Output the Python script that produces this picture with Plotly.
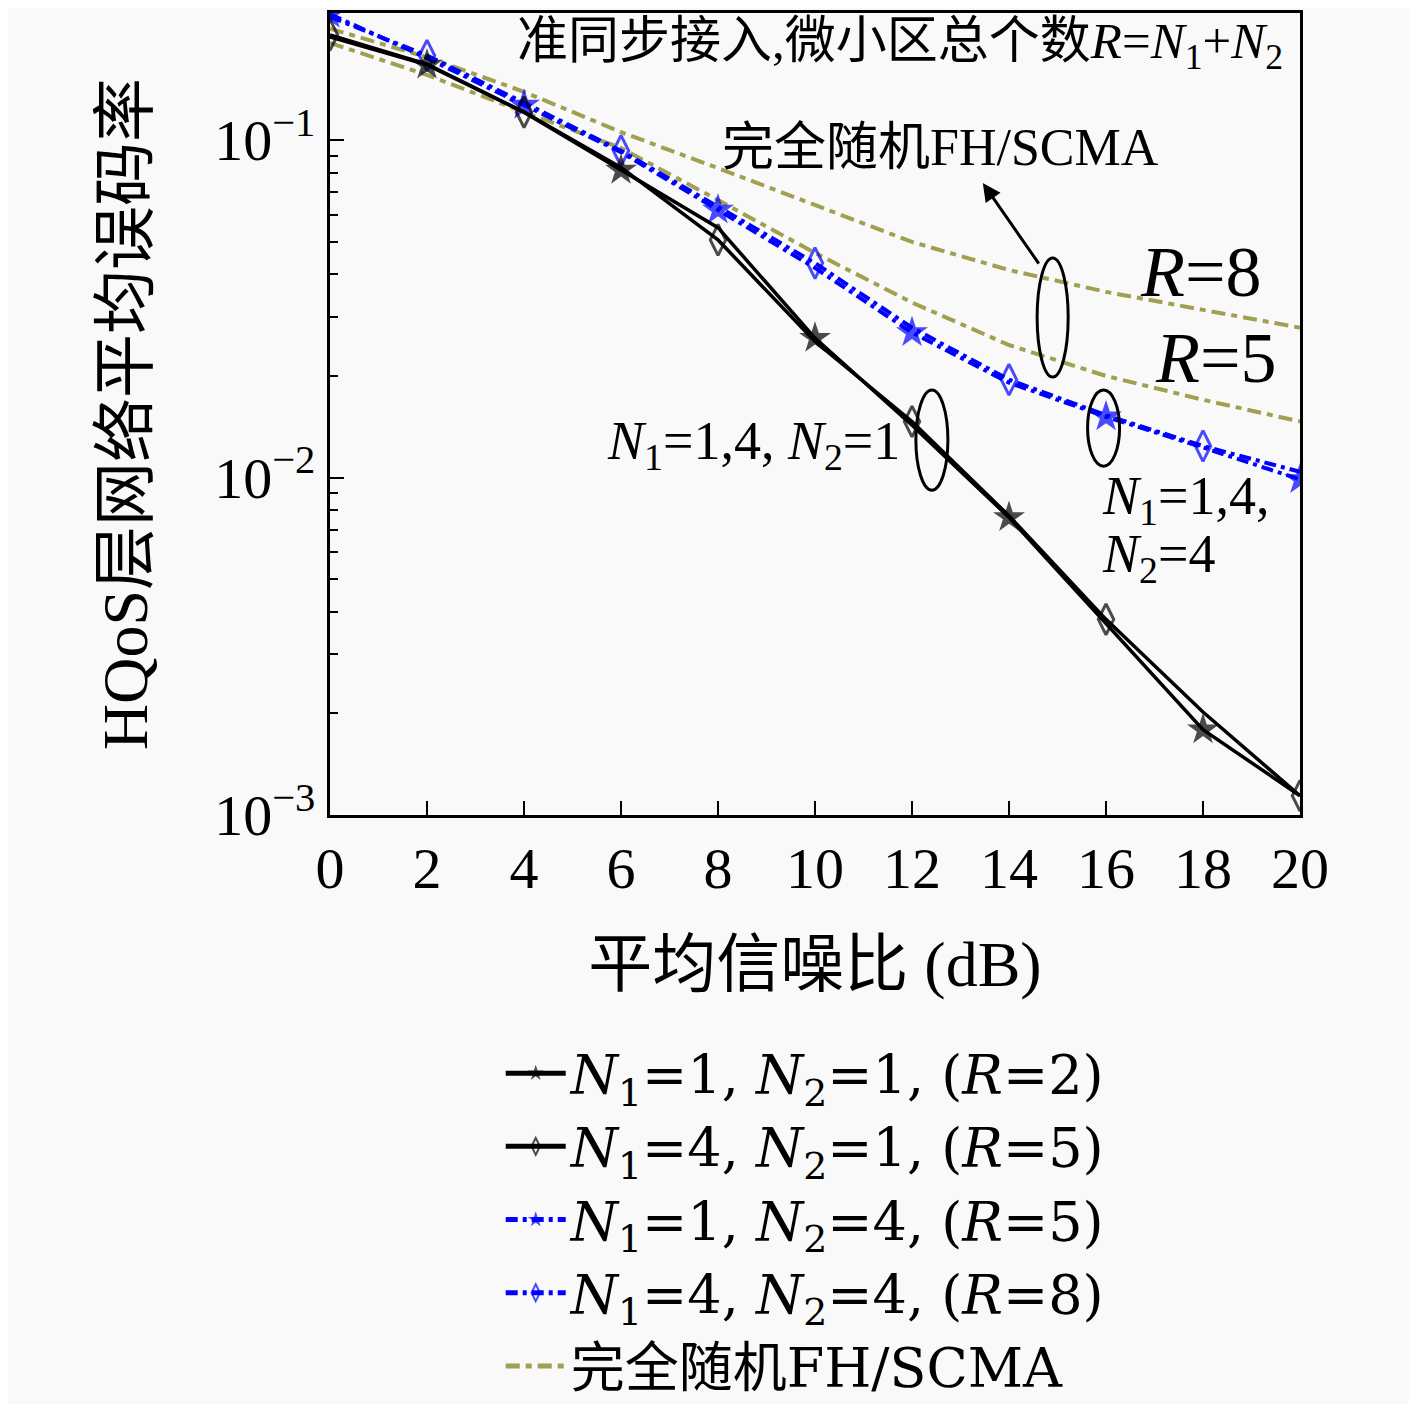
import numpy as np
import plotly.graph_objects as go

# SNR axis (dB)
snr = [0, 2, 4, 6, 8, 10, 12, 14, 16, 18, 20]

# average BER of the HQoS layer
ber_n1_1_n2_1 = [0.202, 0.167, 0.121, 0.0815, 0.055, 0.0259, 0.0143, 0.00762, 0.0037, 0.00179, 0.00114]
ber_n1_4_n2_1 = [0.205, 0.168, 0.121, 0.083, 0.0506, 0.0253, 0.01466, 0.0077, 0.0038, 0.00202, 0.00114]
ber_n1_1_n2_4 = [0.236, 0.175, 0.127, 0.0921, 0.0621, 0.0418, 0.0269, 0.0191, 0.01514, 0.01228, 0.00987]
ber_n1_4_n2_4 = [0.232, 0.178, 0.129, 0.093, 0.0635, 0.0432, 0.0278, 0.0195, 0.0153, 0.0124, 0.0104]
ber_fh_r8 = [0.214, 0.176, 0.139, 0.1056, 0.0826, 0.0642, 0.0499, 0.0412, 0.0355, 0.0314, 0.0278]
ber_fh_r5 = [0.194, 0.156, 0.121, 0.0947, 0.0664, 0.0463, 0.033, 0.0247, 0.020, 0.0170, 0.01466]

legend_names = [
    "<i>N</i><sub>1</sub>=1, <i>N</i><sub>2</sub>=1, (<i>R</i>=2)",
    "<i>N</i><sub>1</sub>=4, <i>N</i><sub>2</sub>=1, (<i>R</i>=5)",
    "<i>N</i><sub>1</sub>=1, <i>N</i><sub>2</sub>=4, (<i>R</i>=5)",
    "<i>N</i><sub>1</sub>=4, <i>N</i><sub>2</sub>=4, (<i>R</i>=8)",
    "完全随机FH/SCMA",
]

FONT = "Liberation Serif, Noto Sans CJK SC, serif"
LEG_FONT = "DejaVu Serif, Noto Sans CJK SC, serif"
BG = "#f9f9f9"
OLIVE = "#a0a050"


def every_other(n, odd, size):
    # markers only on every second point, like markevery in the original
    return [size if (i % 2 == 1) == odd else 0 for i in range(n)]


n = len(snr)
fig = go.Figure()

fig.add_trace(go.Scatter(
    x=snr, y=ber_fh_r8, name=legend_names[4], mode="lines",
    line=dict(color=OLIVE, width=4, dash="14px,6px,6px,6px")))
fig.add_trace(go.Scatter(
    x=snr, y=ber_fh_r5, name=legend_names[4], mode="lines", showlegend=False,
    line=dict(color=OLIVE, width=4, dash="14px,6px,6px,6px")))

fig.add_trace(go.Scatter(
    x=snr, y=ber_n1_1_n2_4, name=legend_names[2], mode="lines+markers",
    line=dict(color="#0000ff", width=4, dash="12px,5px,4px,5px"),
    marker=dict(symbol="star", color="#0000ff", size=every_other(n, False, 24),
                line=dict(width=0))))
fig.add_trace(go.Scatter(
    x=snr, y=ber_n1_4_n2_4, name=legend_names[3], mode="lines+markers",
    line=dict(color="#0000ff", width=4, dash="12px,5px,4px,5px"),
    marker=dict(symbol="diamond-tall-open", color="#0000ff",
                size=every_other(n, True, 22), line=dict(width=3))))

fig.add_trace(go.Scatter(
    x=snr, y=ber_n1_1_n2_1, name=legend_names[0], mode="lines+markers",
    line=dict(color="black", width=3.5),
    marker=dict(symbol="star", color="black", size=every_other(n, True, 24),
                line=dict(width=0))))
fig.add_trace(go.Scatter(
    x=snr, y=ber_n1_4_n2_1, name=legend_names[1], mode="lines+markers",
    line=dict(color="black", width=3.5),
    marker=dict(symbol="diamond-tall-open", color="black",
                size=every_other(n, False, 22), line=dict(width=3))))

# legend order as in the picture
for tr, rank in zip(fig.data, [5, 5, 3, 4, 1, 2]):
    tr.legendrank = rank

fig.update_xaxes(
    range=[0, 20], tick0=0, dtick=2,
    showline=True, mirror=True, linewidth=3, linecolor="black",
    ticks="inside", ticklen=14, tickwidth=2, tickcolor="black",
    showgrid=False, zeroline=False,
    tickfont=dict(size=58, family=FONT, color="black"),
    title=dict(text="平均信噪比 (dB)", font=dict(size=64, family=FONT, color="black"),
               standoff=42))
fig.update_yaxes(
    type="log", range=[-3, np.log10(0.238)],
    tickvals=[1e-3, 1e-2, 1e-1],
    ticktext=["10<sup>−3</sup>", "10<sup>−2</sup>", "10<sup>−1</sup>"],
    showline=True, mirror=True, linewidth=3, linecolor="black",
    ticks="inside", ticklen=14, tickwidth=2, tickcolor="black",
    minor=dict(ticks="inside", ticklen=8, tickwidth=2, tickcolor="black",
               dtick="D1", showgrid=False),
    showgrid=False, zeroline=False,
    tickfont=dict(size=58, family=FONT, color="black"),
    title=dict(text="HQoS层网络平均误码率", font=dict(size=64, family=FONT, color="black"),
               standoff=46))

# ellipses grouping the curves
ellipses = [(0.729, 0.546, 0.761, 0.6945), (0.604, 0.405, 0.637, 0.530), (0.781, 0.435, 0.814, 0.530)]
for x0, y0, x1, y1 in ellipses:
    fig.add_shape(type="circle", xref="paper", yref="paper", x0=x0, y0=y0, x1=x1, y1=y1,
                  line=dict(color="black", width=3))

txt = dict(size=54, family=FONT, color="black")
big = dict(size=72, family=FONT, color="black")
fig.add_annotation(xref="paper", yref="paper", x=0.985, y=0.96, xanchor="right", yanchor="middle",
                   text="准同步接入,微小区总个数<i>R</i>=<i>N</i><sub>1</sub>+<i>N</i><sub>2</sub>",
                   showarrow=False, font=dict(size=51, family=FONT, color="black"))
fig.add_annotation(xref="paper", yref="paper", x=0.402, y=0.832, xanchor="left", yanchor="middle",
                   text="完全随机FH/SCMA", showarrow=False, font=dict(size=52, family=FONT, color="black"))
fig.add_annotation(xref="paper", yref="paper", x=0.673, y=0.788, text="",
                   showarrow=True, arrowhead=2, arrowsize=1.2, arrowwidth=3, arrowcolor="black",
                   ax=57, ay=82)
fig.add_annotation(xref="paper", yref="paper", x=0.833, y=0.677, xanchor="left", yanchor="middle",
                   text="<i>R</i>=8", showarrow=False, font=big)
fig.add_annotation(xref="paper", yref="paper", x=0.848, y=0.570, xanchor="left", yanchor="middle",
                   text="<i>R</i>=5", showarrow=False, font=big)
fig.add_annotation(xref="paper", yref="paper", x=0.2835, y=0.462, xanchor="left", yanchor="middle",
                   text="<i>N</i><sub>1</sub>=1,4, <i>N</i><sub>2</sub>=1", showarrow=False, font=txt)
fig.add_annotation(xref="paper", yref="paper", x=0.794, y=0.393, xanchor="left", yanchor="middle",
                   text="<i>N</i><sub>1</sub>=1,4,", showarrow=False, font=txt)
fig.add_annotation(xref="paper", yref="paper", x=0.794, y=0.321, xanchor="left", yanchor="middle",
                   text="<i>N</i><sub>2</sub>=4", showarrow=False, font=txt)

# the page adds an 8px body margin, so the figure is 16px smaller than the window
fig.update_layout(
    width=1401, height=1396,
    margin=dict(l=322, r=109, t=5, b=589, autoexpand=False),
    paper_bgcolor=BG, plot_bgcolor=BG,
    font=dict(family=FONT, color="black"),
    legend=dict(x=0.176, y=-0.27, xanchor="left", yanchor="top",
                bgcolor="rgba(0,0,0,0)", font=dict(size=54, family=LEG_FONT, color="black"),
                tracegroupgap=0, itemwidth=60, itemsizing="constant"))

fig.write_html("out.html")
